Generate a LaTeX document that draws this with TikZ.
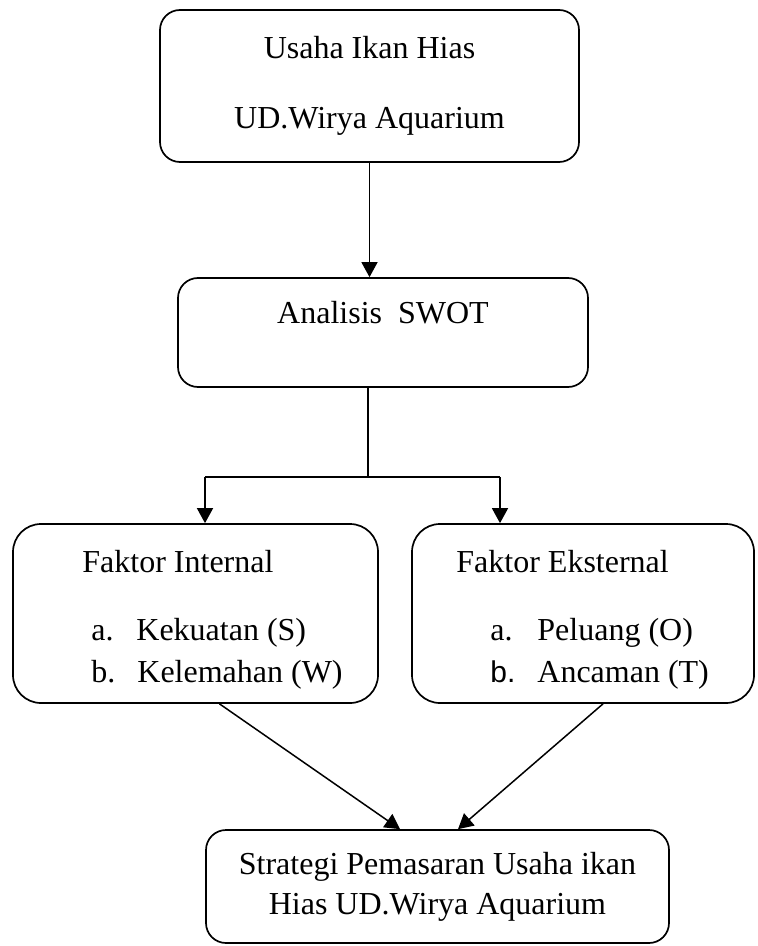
\documentclass[tikz,border=0pt]{standalone}
\usepackage{fontspec}
\setmainfont{Liberation Serif}
\newfontfamily\arialfont{Liberation Sans}
\usepackage{tikz}
\usetikzlibrary{arrows.meta,positioning}
\tikzset{
  kotak/.style={draw, line width=0.85pt, rounded corners=10pt, inner sep=0pt},
  teks/.style={inner sep=0pt, anchor=base west, font=\fontsize{16}{20}\selectfont},
  panah/.style={line width=0.75pt, -{Triangle[length=7.5pt,width=8pt]}},
  garis/.style={line width=0.75pt},
}

\begin{document}
\begin{tikzpicture}[x=0.5pt,y=-0.5pt]
        \useasboundingbox (0,0) rectangle (757,946);
        % kotak-kotak
        \node[kotak, minimum width=209.5pt, minimum height=76pt, align=center,
              font=\fontsize{16}{35}\selectfont] (usaha) at (369.5,86)
              {Usaha Ikan Hias\\UD.Wirya Aquarium};
        \node[kotak, minimum width=205pt, text height=22.5pt, text depth=32pt,
              font=\fontsize{16}{20}\selectfont] (swot) at (383,332.5) {Analisis\ \ SWOT};
        \node[kotak, rounded corners=14pt, minimum width=182.5pt, minimum height=89.5pt] (internal) at (195.5,613.5) {};
        \node[kotak, rounded corners=14pt, minimum width=171pt, minimum height=89.5pt] (eksternal) at (583,613.5) {};
        \node[kotak, minimum width=231.5pt, minimum height=56.5pt, align=center,
              font=\fontsize{16}{20}\selectfont] (strategi) at (437.5,886.5)
              {Strategi Pemasaran Usaha ikan\\Hias UD.Wirya Aquarium};
        % isi faktor
        \node[teks] (judulint) at (82,572) {Faktor Internal};
        \node[teks] (ia) at (91,640) {a.};
        \node[teks] (kekuatan) at (136,640) {Kekuatan (S)};
        \node[teks] (ib) at (91,682) {b.};
        \node[teks] (kelemahan) at (137,682) {Kelemahan (W)};
        \node[teks] (judulek) at (456,572) {Faktor Eksternal};
        \node[teks] (ea) at (490,640) {a.};
        \node[teks] (peluang) at (537,640) {Peluang (O)};
        \node[teks, font=\arialfont\fontsize{15}{20}\selectfont] (eb) at (490,682) {b.};
        \node[teks] (ancaman) at (537,682) {Ancaman (T)};
        % panah
        \coordinate (cabang) at (368,477);
        \coordinate (kiri) at (205,477);
        \coordinate (kanan) at (500,477);
        \draw[panah] (usaha.south) -- (usaha.south |- swot.north);
        \draw[garis] (swot.south -| cabang) -- (cabang);
        \draw[garis] (kiri) -- (kanan);
        \draw[panah] (kiri) -- (kiri |- internal.north);
        \draw[panah] (kanan) -- (kanan |- eksternal.north);
        \draw[panah] ([xshift=12pt]internal.south) -- ([xshift=-18.75pt]strategi.north);
        \draw[panah] ([xshift=10pt]eksternal.south) -- ([xshift=10.25pt]strategi.north);
    \end{tikzpicture}
\end{document}
